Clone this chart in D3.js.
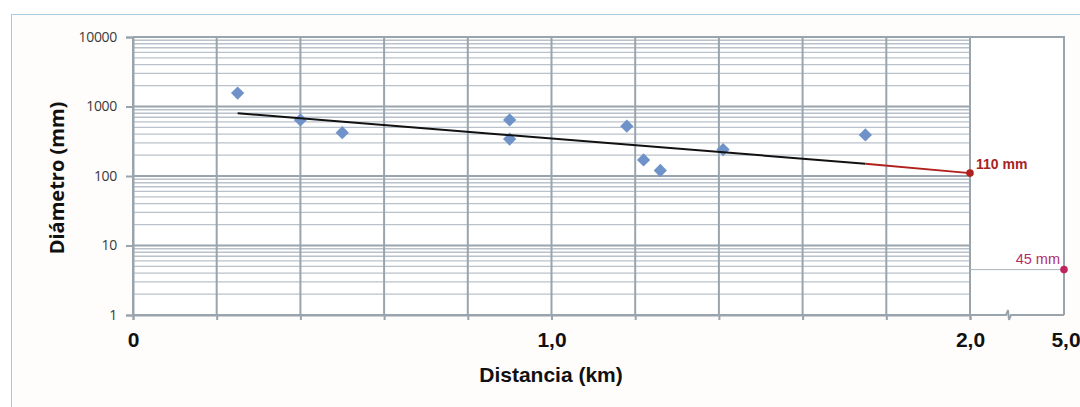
<!DOCTYPE html>
<html><head><meta charset="utf-8">
<script src="https://cdn.jsdelivr.net/npm/d3@7"></script>
<style>
html,body{margin:0;padding:0;background:#fff;}
svg{display:block;}
</style></head>
<body>
<svg id="chart" width="1080" height="407"></svg>
<script>
// ---- data ----
const distKm = [0.25, 0.40, 0.50, 0.90, 0.90, 1.18, 1.22, 1.26, 1.41, 1.75];
const diamMm = [1560, 640, 420, 640, 340, 520, 170, 120, 240, 390];
const trendKm = [0.25, 1.75];
const trendMm = [800, 150];
const extraKm = [1.75, 2.0];
const extraMm = [150, 110];
const extraLabel = "110 mm";
const breakKm = 5.0;
const breakMm = 4.5;
const breakLabel = "45 mm";
const yTicks = [1, 10, 100, 1000, 10000];
const xTicks = [0, 0.2, 0.4, 0.6, 0.8, 1.0, 1.2, 1.4, 1.6, 1.8, 2.0];
const xLabels = {0: "0", 1: "1,0", 2: "2,0"};
const breakTicks = [5.0];
const breakTickLabels = ["5,0"];
const xTitle = "Distancia (km)";
const yTitle = "Diámetro (mm)";

// ---- layout ----
const svg = d3.select("#chart");
const L = 133, R = 970, T = 37, B = 315, BR = 1064;
const x = d3.scaleLinear().domain([0, 2]).range([L, R]);
const xb = d3.scaleLinear().domain([2, 5]).range([R, BR]);
const y = d3.scaleLog().domain([1, 10000]).range([B, T]);

// outer frame
svg.append("rect").attr("x", 11.5).attr("y", 14.5).attr("width", 1100).attr("height", 420)
  .attr("fill", "#fffdfb").attr("stroke", "#a9c9dc").attr("stroke-width", 1);

// plot backgrounds
svg.append("rect").attr("x", L).attr("y", T).attr("width", R - L).attr("height", B - T).attr("fill", "#fff");
svg.append("rect").attr("x", R).attr("y", T).attr("width", BR - R).attr("height", B - T).attr("fill", "#fff");

const gridColMinor = "#b9c2ca", gridColMajor = "#9aa4ad";

// minor horizontal grid lines
const minor = [];
for (let d = 1; d < 10000; d *= 10) for (let k = 2; k <= 9; k++) minor.push(d * k);
svg.append("g").selectAll("line").data(minor).join("line")
  .attr("x1", L).attr("x2", R).attr("y1", d => y(d)).attr("y2", d => y(d))
  .attr("stroke", gridColMinor).attr("stroke-width", 1.4);
// major horizontal grid lines
svg.append("g").selectAll("line").data(yTicks).join("line")
  .attr("x1", L).attr("x2", R).attr("y1", d => y(d)).attr("y2", d => y(d))
  .attr("stroke", gridColMajor).attr("stroke-width", 2);
// vertical grid lines
svg.append("g").selectAll("line").data(xTicks).join("line")
  .attr("x1", d => x(d)).attr("x2", d => x(d)).attr("y1", T).attr("y2", B)
  .attr("stroke", gridColMajor).attr("stroke-width", 2);

// break box border (top, right)
svg.append("path")
  .attr("d", `M${R},${T}H${BR}V${B}`)
  .attr("fill", "none").attr("stroke", gridColMajor).attr("stroke-width", 2);

// y axis
const yAxis = d3.axisLeft(y).tickValues(yTicks).tickFormat(d3.format("d")).tickSize(7).tickPadding(9);
const gy = svg.append("g").attr("transform", `translate(${L},0)`).call(yAxis);
gy.select(".domain").attr("stroke", gridColMajor).attr("stroke-width", 2);
gy.selectAll(".tick line").attr("stroke", gridColMajor).attr("stroke-width", 2);
gy.selectAll(".tick text").attr("font-family", "'Open Sans', sans-serif").attr("font-size", 14)
  .attr("fill", "#3a3a3a").attr("letter-spacing", "-0.3px");

// x axis
const xAxis = d3.axisBottom(x).tickValues(xTicks)
  .tickFormat(d => xLabels[Math.round(d * 10) / 10] !== undefined && Math.abs(d - Math.round(d)) < 1e-9 ? xLabels[Math.round(d)] : "")
  .tickSize(5).tickPadding(12);
const gx = svg.append("g").attr("transform", `translate(0,${B})`).call(xAxis);
gx.select(".domain").attr("stroke", gridColMajor).attr("stroke-width", 2);
gx.selectAll(".tick line").attr("stroke", gridColMajor).attr("stroke-width", 2);
gx.selectAll(".tick text").attr("font-family", "'Liberation Sans', Arial, sans-serif")
  .attr("font-size", 21).attr("font-weight", "bold").attr("fill", "#111");

// break axis segment with zigzag
const zx = (xb(2) + xb(5)) / 2 - 9;
svg.append("path")
  .attr("d", `M${R},${B}H${zx - 2}L${zx},${B - 5}L${zx + 1},${B + 5}L${zx + 3},${B}H${BR}`)
  .attr("fill", "none").attr("stroke", gridColMajor).attr("stroke-width", 2);
svg.append("g").selectAll("text").data(breakTicks).join("text")
  .attr("x", d => xb(d) + 2).attr("y", B + 32).attr("text-anchor", "middle")
  .attr("font-family", "'Liberation Sans', Arial, sans-serif").attr("font-size", 21)
  .attr("font-weight", "bold").attr("fill", "#111").text((d, i) => breakTickLabels[i]);

// break reference line + point
svg.append("line").attr("x1", R).attr("x2", xb(breakKm)).attr("y1", y(breakMm)).attr("y2", y(breakMm))
  .attr("stroke", "#a9b3bb").attr("stroke-width", 1);
svg.append("circle").attr("cx", xb(breakKm)).attr("cy", y(breakMm)).attr("r", 3.8).attr("fill", "#c0245e");
svg.append("text").attr("x", xb(breakKm) - 4).attr("y", y(breakMm) - 6).attr("text-anchor", "end")
  .attr("font-family", "'Liberation Sans', Arial, sans-serif").attr("font-size", 14.5)
  .attr("fill", "#b02e6e").text(breakLabel);

// diamonds
const pts = distKm.map((d, i) => [d, diamMm[i]]);
svg.append("g").selectAll("path").data(pts).join("path")
  .attr("d", d3.symbol(d3.symbolSquare, 88))
  .attr("transform", d => `translate(${x(d[0])},${y(d[1])}) rotate(45)`)
  .attr("fill", "#6f93c9");

// trend line
const line = d3.line().x(d => x(d[0])).y(d => y(d[1]));
svg.append("path").datum(trendKm.map((d, i) => [d, trendMm[i]]))
  .attr("d", line).attr("fill", "none").attr("stroke", "#111").attr("stroke-width", 2);
svg.append("path").datum(extraKm.map((d, i) => [d, extraMm[i]]))
  .attr("d", line).attr("fill", "none").attr("stroke", "#b0201c").attr("stroke-width", 2);
svg.append("circle").attr("cx", x(extraKm[1])).attr("cy", y(extraMm[1])).attr("r", 3.8).attr("fill", "#b0201c");
svg.append("text").attr("x", x(extraKm[1]) + 6).attr("y", y(extraMm[1]) - 4)
  .attr("font-family", "'Liberation Sans', Arial, sans-serif").attr("font-size", 14)
  .attr("font-weight", "bold").attr("fill", "#a8231f").text(extraLabel);

// titles
svg.append("text").attr("x", 551).attr("y", 382).attr("text-anchor", "middle")
  .attr("font-family", "'Liberation Sans', Arial, sans-serif").attr("font-size", 21)
  .attr("font-weight", "bold").attr("fill", "#111").text(xTitle);
svg.append("text").attr("transform", "translate(64,178) rotate(-90)").attr("text-anchor", "middle")
  .attr("font-family", "'Open Sans', sans-serif").attr("font-size", 20)
  .attr("font-weight", "bold").attr("fill", "#111").text(yTitle);
</script>
</body></html>
